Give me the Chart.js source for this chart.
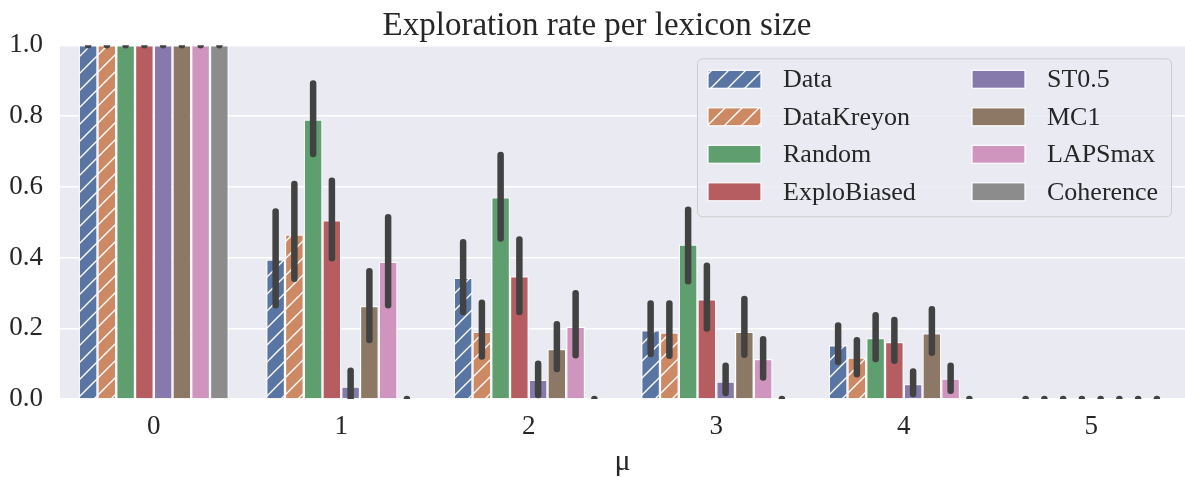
<!DOCTYPE html>
<html>
<head>
<meta charset="utf-8">
<script src="https://cdn.jsdelivr.net/npm/chart.js@4.4.0/dist/chart.umd.min.js"></script>
<style>
  html, body { margin: 0; padding: 0; background: #fff; }
  #wrap { width: 1185px; height: 477px; position: relative; }
</style>
</head>
<body>
<div id="wrap"><canvas id="grafico"></canvas></div>
<script>
// === Dados ===
var categorias = ['0', '1', '2', '3', '4', '5'];
var series = ['Data', 'DataKreyon', 'Random', 'ExploBiased', 'ST0.5', 'MC1', 'LAPSmax', 'Coherence'];
var cores = ['#5975a4', '#cc8963', '#5f9e6e', '#b55d60', '#857aab', '#8d7866', '#d095bf', '#8c8c8c'];
var hachurado = [true, true, false, false, false, false, false, false];

var vData        = [1, 0.394, 0.343, 0.194, 0.152, 0];
var vDataKreyon  = [1, 0.465, 0.190, 0.188, 0.117, 0];
var vRandom      = [1, 0.790, 0.570, 0.437, 0.172, 0];
var vExploBiased = [1, 0.505, 0.347, 0.282, 0.161, 0];
var vST05        = [1, 0.035, 0.054, 0.049, 0.042, 0];
var vMC1         = [1, 0.263, 0.141, 0.190, 0.186, 0];
var vLAPSmax     = [1, 0.388, 0.204, 0.113, 0.058, 0];
var vCoherence   = [1, 0, 0, 0, 0, 0];

// intervalos de confiança (baixo / alto)
var ciData        = [[1,1],[0.265,0.530],[0.246,0.443],[0.127,0.270],[0.105,0.208],[0,0]];
var ciDataKreyon  = [[1,1],[0.340,0.608],[0.120,0.272],[0.122,0.270],[0.070,0.166],[0,0]];
var ciRandom      = [[1,1],[0.693,0.892],[0.454,0.690],[0.333,0.535],[0.113,0.237],[0,0]];
var ciExploBiased = [[1,1],[0.398,0.617],[0.246,0.451],[0.199,0.377],[0.108,0.223],[0,0]];
var ciST05        = [[1,1],[0.003,0.080],[0.011,0.100],[0.017,0.094],[0.014,0.078],[0,0]];
var ciMC1         = [[1,1],[0.167,0.361],[0.085,0.211],[0.125,0.283],[0.131,0.254],[0,0]];
var ciLAPSmax     = [[1,1],[0.265,0.514],[0.124,0.299],[0.061,0.169],[0.023,0.094],[0,0]];
var ciCoherence   = [[1,1],[0,0],[0,0],[0,0],[0,0],[0,0]];

var valores = [vData, vDataKreyon, vRandom, vExploBiased, vST05, vMC1, vLAPSmax, vCoherence];
var intervalos = [ciData, ciDataKreyon, ciRandom, ciExploBiased, ciST05, ciMC1, ciLAPSmax, ciCoherence];

var yTicks = [0, 0.2, 0.4, 0.6, 0.8, 1.0];

var FONTE = "'Liberation Serif', 'DejaVu Serif', serif";
var TEXTO = '#262626';

// padrão hachurado "/" em branco
function hachura(cor) {
  var c = document.createElement('canvas');
  var s = 17;
  c.width = s; c.height = s;
  var g = c.getContext('2d');
  g.fillStyle = cor;
  g.fillRect(0, 0, s, s);
  g.strokeStyle = '#ffffff';
  g.lineWidth = 1.4;
  g.beginPath();
  g.moveTo(-2, s + 2); g.lineTo(s + 2, -2);
  g.moveTo(-s / 2 - 2, s / 2 + 2); g.lineTo(s / 2 + 2, -s / 2 - 2);
  g.moveTo(s / 2 - 2, s * 1.5 + 2); g.lineTo(s * 1.5 + 2, s / 2 - 2);
  g.stroke();
  return g.createPattern(c, 'repeat');
}

var datasets = series.map(function (nome, i) {
  return {
    label: nome,
    data: valores[i],
    backgroundColor: hachurado[i] ? hachura(cores[i]) : cores[i],
    borderColor: '#ffffff',
    borderWidth: 1.2,
    categoryPercentage: 0.8,
    barPercentage: 1.0
  };
});

// fundo da área do gráfico
var fundoPlugin = {
  id: 'fundo',
  beforeDraw: function (chart) {
    var a = chart.chartArea, ctx = chart.ctx;
    ctx.save();
    ctx.fillStyle = '#eaeaf2';
    ctx.fillRect(a.left, a.top, a.right - a.left, a.bottom - a.top);
    ctx.restore();
  }
};

// barras de erro
var erroPlugin = {
  id: 'erro',
  afterDatasetsDraw: function (chart) {
    var ctx = chart.ctx, a = chart.chartArea, y = chart.scales.y;
    ctx.save();
    ctx.beginPath();
    ctx.rect(a.left, a.top, a.right - a.left, a.bottom - a.top);
    ctx.clip();
    ctx.strokeStyle = '#424242';
    ctx.lineWidth = 6.5;
    ctx.lineCap = 'round';
    intervalos.forEach(function (ci, i) {
      var meta = chart.getDatasetMeta(i);
      ci.forEach(function (par, j) {
        var bar = meta.data[j];
        ctx.beginPath();
        ctx.moveTo(bar.x, y.getPixelForValue(par[0]));
        ctx.lineTo(bar.x, y.getPixelForValue(par[1]));
        ctx.stroke();
      });
    });
    ctx.restore();
  }
};

// legenda dentro da área, 2 colunas
var legendaPlugin = {
  id: 'legendaInterna',
  afterDraw: function (chart) {
    var ctx = chart.ctx, a = chart.chartArea;
    var w = 474, h = 158;
    var x0 = a.right - 14 - w, y0 = a.top + 13;
    ctx.save();
    ctx.fillStyle = 'rgba(234,234,242,0.8)';
    ctx.strokeStyle = '#cccccc';
    ctx.lineWidth = 1;
    ctx.beginPath();
    ctx.roundRect(x0 + 0.5, y0 + 0.5, w, h, 5);
    ctx.fill();
    ctx.stroke();
    ctx.font = '26px ' + FONTE;
    ctx.textBaseline = 'middle';
    ctx.fillStyle = TEXTO;
    chart.data.datasets.forEach(function (ds, i) {
      var col = Math.floor(i / 4), row = i % 4;
      var sx = x0 + 11 + col * 264;
      var cy = y0 + 21 + row * 37.5;
      ctx.fillStyle = ds.backgroundColor;
      ctx.fillRect(sx, cy - 9, 53, 18);
      ctx.strokeStyle = '#ffffff';
      ctx.lineWidth = 1.2;
      ctx.strokeRect(sx, cy - 9, 53, 18);
      ctx.fillStyle = TEXTO;
      ctx.fillText(ds.label, sx + 75, cy + 1);
    });
    ctx.restore();
  }
};

var ctx = document.getElementById('grafico');
new Chart(ctx, {
  type: 'bar',
  data: { labels: categorias, datasets: datasets },
  plugins: [fundoPlugin, erroPlugin, legendaPlugin],
  options: {
    responsive: true,
    maintainAspectRatio: false,
    animation: false,
    layout: { padding: { left: 9, right: 0, top: 0, bottom: 0 } },
    plugins: {
      legend: { display: false },
      tooltip: { enabled: false },
      title: {
        display: true,
        text: 'Exploration rate per lexicon size',
        color: TEXTO,
        font: { family: FONTE, size: 33, weight: 'normal', lineHeight: 1.1 },
        padding: { top: 8, bottom: 1 }
      }
    },
    scales: {
      x: {
        grid: { display: false },
        border: { display: false },
        ticks: { color: TEXTO, font: { family: FONTE, size: 27, lineHeight: 1 }, padding: 6 },
        title: {
          display: true,
          text: 'μ',
          color: TEXTO,
          font: { family: FONTE, size: 30, lineHeight: 1 },
          padding: { top: 8, bottom: 0 }
        },
        afterFit: function (scale) { scale.height = 78; }
      },
      y: {
        min: 0,
        max: 1,
        afterBuildTicks: function (axis) {
          axis.ticks = yTicks.map(function (v) { return { value: v }; });
        },
        grid: { color: '#ffffff', lineWidth: 1.5, drawTicks: false },
        border: { display: false },
        ticks: {
          color: TEXTO,
          font: { family: FONTE, size: 27 },
          padding: 17,
          callback: function (v) { return Number(v).toFixed(1); }
        },
        afterFit: function (scale) { scale.width = 51; }
      }
    }
  }
});
</script>
</body>
</html>
